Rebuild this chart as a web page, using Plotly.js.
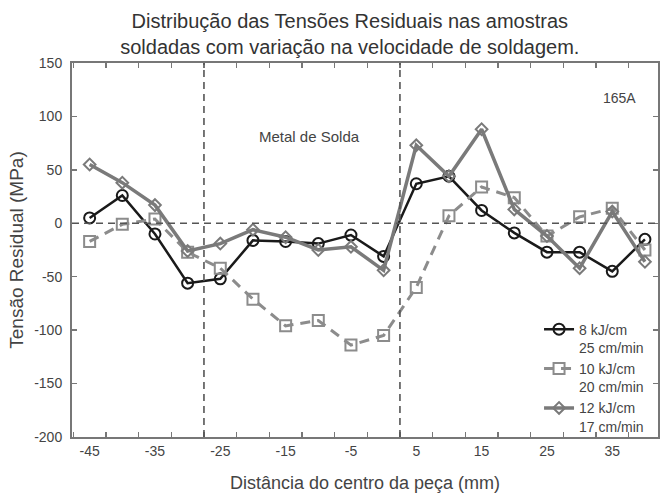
<!DOCTYPE html>
<html>
<head>
<meta charset="utf-8">
<script src="https://cdn.plot.ly/plotly-3.0.1.min.js"></script>
<style>html,body{margin:0;padding:0;background:#fff;}#chart{width:660px;height:493px;}</style>
</head>
<body>
<div id="chart"></div>
<script>
// Distance from the centre of the piece (mm)
const distance = [-45, -40, -35, -30, -25, -20, -15, -10, -5, 0, 5, 10, 15, 20, 25, 30, 35, 40];
// Residual stress (MPa)
const stress8kJ  = [5, 26, -10, -56, -52, -16, -17, -19, -11, -31, 37, 44, 12, -9, -27, -27, -45, -15];
const stress10kJ = [-17, -1, 4, -27, -42, -71, -96, -91, -114, -105, -60, 7, 34, 24, -12, 6, 14, -25];
const stress12kJ = [55, 38, 17, -26, -19, -6, -13, -25, -22, -44, 73, 44, 88, 13, -12, -42, 11, -36];
const seriesNames = ['8 kJ/cm<br>25 cm/min', '10 kJ/cm<br>20 cm/min', '12 kJ/cm<br>17 cm/min'];
const xTickVals = [-45, -35, -25, -15, -5, 5, 15, 25, 35];
const xTickText = ['-45', '-35', '-25', '-15', '-5', '5', '15', '25', '35'];
const yTickVals = [-200, -150, -100, -50, 0, 50, 100, 150];
const yTickText = ['-200', '-150', '-100', '-50', '0', '50', '100', '150'];
const zoneBoundaries = [-27.5, 2.5];
const zeroLevel = 0;

const font = 'Liberation Sans, Arial, sans-serif';

const traces = [
  {x: distance, y: stress8kJ, name: seriesNames[0], type: 'scatter', mode: 'lines+markers',
   line: {color: '#1a1a1a', width: 2.5},
   marker: {symbol: 'circle-open', size: 11, color: '#1a1a1a', line: {width: 2}}},
  {x: distance, y: stress10kJ, name: seriesNames[1], type: 'scatter', mode: 'lines+markers',
   line: {color: '#8c8c8c', width: 3, dash: '10px,7px'},
   marker: {symbol: 'square-open', size: 11, color: '#8c8c8c', line: {width: 2}}},
  {x: distance, y: stress12kJ, name: seriesNames[2], type: 'scatter', mode: 'lines+markers',
   line: {color: '#7a7a7a', width: 3.5},
   marker: {symbol: 'diamond-open', size: 9, color: '#7a7a7a', line: {width: 2}}}
];

const shapes = zoneBoundaries.map(v => ({type: 'line', xref: 'x', yref: 'paper', x0: v, x1: v, y0: 0, y1: 1,
  line: {color: '#555', width: 1.6, dash: '7px,5px'}}));
shapes.push({type: 'line', xref: 'paper', yref: 'y', x0: 0, x1: 1, y0: zeroLevel, y1: zeroLevel,
  line: {color: '#555', width: 1.6, dash: '7px,5px'}});

const layout = {
  width: 660, height: 493,
  margin: {l: 72, r: 2, t: 63, b: 56},
  paper_bgcolor: '#fff', plot_bgcolor: '#fff',
  font: {family: font, color: '#444', size: 14},
  showlegend: true,
  title: {text: 'Distribução das Tensões Residuais nas amostras<br>soldadas com variação na velocidade de soldagem.',
    font: {family: font, size: 20, color: '#333'}, x: 0.53, xanchor: 'center', y: 0.943, yanchor: 'top'},
  xaxis: {range: [-47.7, 42.0], tickmode: 'array', tickvals: xTickVals, ticktext: xTickText, ticks: 'inside', ticklen: 0,
    showgrid: false, zeroline: false, showline: true, linecolor: '#777', linewidth: 2, mirror: 'ticks',
    tickfont: {size: 14, color: '#444'},
    minor: {tickmode: 'linear', tick0: -42.5, dtick: 5, ticks: 'inside', ticklen: 5, tickcolor: '#777', tickwidth: 1.5, showgrid: false},
    title: {text: 'Distância do centro da peça (mm)', font: {size: 18, color: '#444'}, standoff: 19}},
  yaxis: {range: [-200, 150], tickmode: 'array', tickvals: yTickVals, ticktext: yTickText, ticks: 'inside', ticklen: 5, tickcolor: '#777', tickwidth: 1.5,
    showgrid: false, zeroline: false, showline: true, linecolor: '#777', linewidth: 2, mirror: 'ticks',
    tickfont: {size: 14, color: '#444'}, ticklabelstandoff: 5,
    title: {text: 'Tensão Residual (MPa)', font: {size: 19, color: '#444'}, standoff: 6}},
  legend: {x: 0.797, xanchor: 'left', y: 0.33, yanchor: 'top', bgcolor: 'rgba(0,0,0,0)',
    font: {size: 14, color: '#444'}, valign: 'top', tracegroupgap: 0},
  shapes: shapes,
  annotations: [
    {text: 'Metal de Solda', x: -11.4, y: 81, xref: 'x', yref: 'y', showarrow: false, font: {size: 15, color: '#444'}},
    {text: '165A', x: 36.1, y: 117.5, xref: 'x', yref: 'y', showarrow: false, font: {size: 14, color: '#444'}}
  ]
};

Plotly.newPlot('chart', traces, layout, {displayModeBar: false, staticPlot: true});
</script>
</body>
</html>
